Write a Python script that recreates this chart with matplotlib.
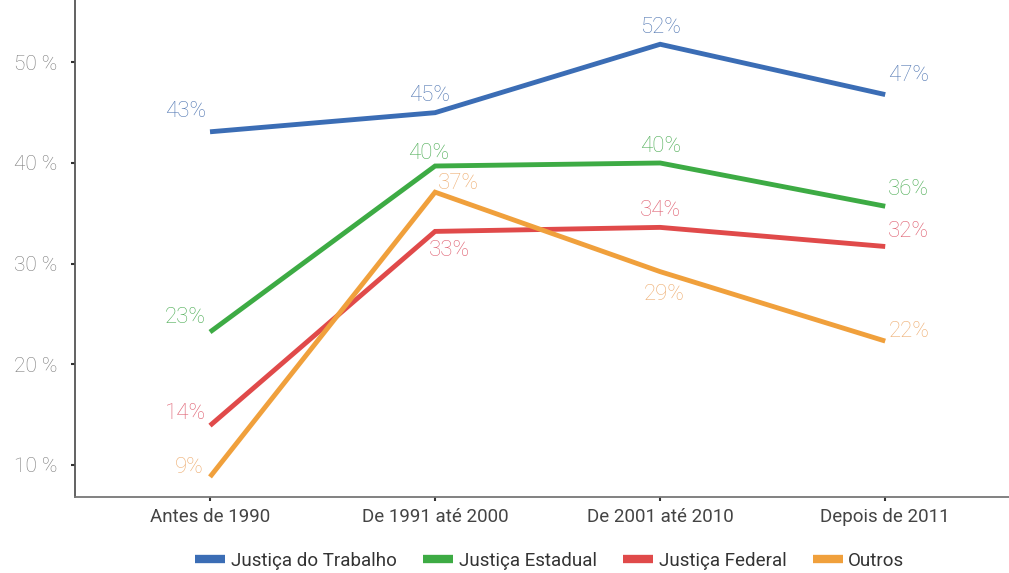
import matplotlib
matplotlib.use("Agg")
import matplotlib.pyplot as plt
from matplotlib.lines import Line2D

categories = ["Antes de 1990", "De 1991 até 2000", "De 2001 até 2010", "Depois de 2011"]
series_names = ["Justiça do Trabalho", "Justiça Estadual", "Justiça Federal", "Outros"]
trabalho = [43.1, 45.0, 51.8, 46.8]
estadual = [23.2, 39.7, 40.0, 35.7]
federal = [13.9, 33.2, 33.6, 31.7]
outros = [8.8, 37.1, 29.2, 22.3]
labels_trabalho = ["43%", "45%", "52%", "47%"]
labels_estadual = ["23%", "40%", "40%", "36%"]
labels_federal = ["14%", "33%", "34%", "32%"]
labels_outros = ["9%", "37%", "29%", "22%"]
yticks = [10, 20, 30, 40, 50]
ytick_labels = ["10 %", "20 %", "30 %", "40 %", "50 %"]

values = [trabalho, estadual, federal, outros]
labels = [labels_trabalho, labels_estadual, labels_federal, labels_outros]
line_colors = ["#3b6db5", "#3dab44", "#e04a4a", "#f0a03c"]
label_colors = ["#5278b3", "#4fae57", "#df5f70", "#eeae72"]

# label offsets in pixels (dx, dy, ha)
offsets = [
    [(-4, 20, "right"), (-6, 17, "center"), (0, 17, "center"), (23, 19, "center")],
    [(-4, 15, "right"), (-6, 13, "center"), (0, 16, "center"), (23, 17, "center")],
    [(-4, 12, "right"), (14, -19, "center"), (0, 17, "center"), (23, 15, "center")],
    [(-6, 9, "right"), (23, 9, "center"), (4, -23, "center"), (24, 10, "center")],
]

fig = plt.figure(figsize=(10.09, 5.73), dpi=100)
ax = fig.add_axes([0.0743, 0.1326, 0.9257, 0.8674])

x = list(range(len(categories)))
for vals, col in zip(values, line_colors):
    ax.plot(x, vals, color=col, lw=3.5, solid_capstyle="butt", solid_joinstyle="miter")

for vals, labs, offs, lc in zip(values, labels, offsets, label_colors):
    for xi, v, lab, (dx, dy, ha) in zip(x, vals, labs, offs):
        ax.annotate(lab, (xi, v), xytext=(dx * 0.72, dy * 0.72), textcoords="offset points",
                    ha=ha, va="center", color=lc, fontsize=16, family="Roboto",
                    fontweight="light")

ax.set_xlim(-0.6, 3.55)
ax.set_ylim(6.8, 56.2)
ax.set_xticks(x)
ax.set_xticklabels(categories, fontsize=13.5, color="#444444", family="Roboto")
ax.set_yticks(yticks)
ax.set_yticklabels(ytick_labels, fontsize=15, color="#7a7a7a", family="Roboto", fontweight="light")
ax.tick_params(axis="both", length=3, width=1.5, color="#333333")
ax.tick_params(axis="y", pad=10)
ax.tick_params(axis="x", pad=5)
for s in ["top", "right"]:
    ax.spines[s].set_visible(False)
ax.spines["left"].set_color("#555555")
ax.spines["bottom"].set_color("#777777")
ax.spines["left"].set_linewidth(1.3)
ax.spines["bottom"].set_linewidth(1.3)

handles = [Line2D([0], [0], color=c, lw=6, solid_capstyle="butt") for c in line_colors]
fig.legend(handles, series_names, loc="center", bbox_to_anchor=(0.545, 0.021), ncol=4,
           frameon=False, handlelength=1.6, handletextpad=0.3,
           columnspacing=1.4, prop={"family": "Roboto", "size": 13.5}, labelcolor="#333333")

fig.savefig("out.png", dpi=100)
